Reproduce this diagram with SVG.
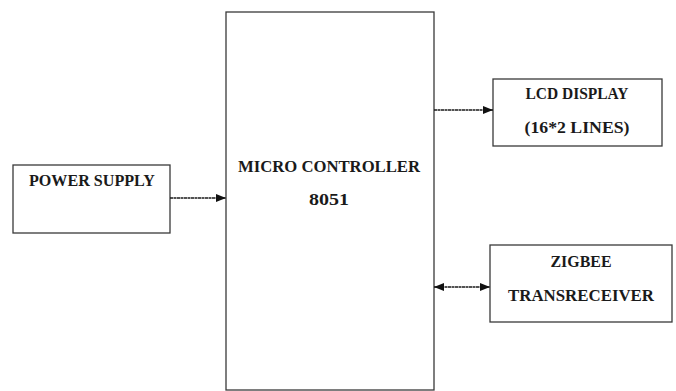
<svg xmlns="http://www.w3.org/2000/svg" width="676" height="391" viewBox="0 0 676 391">
<style>
.box{fill:#fff;stroke:#3a3a3a;stroke-width:1.3}
.lbl{font-family:"Liberation Serif","DejaVu Serif",serif;font-weight:bold;font-size:16.5px;fill:#1a1a1a;text-anchor:middle}
.conn{stroke:#1a1a1a;stroke-width:1.4;fill:none;stroke-dasharray:3 0.5}
</style>
<defs>
<marker id="ah" viewBox="0 0 10 10" refX="10" refY="5" markerWidth="10" markerHeight="10" markerUnits="userSpaceOnUse" orient="auto-start-reverse">
<path d="M0,1 L10,5 L0,9 Z" fill="#111"/>
</marker>
</defs>
<rect width="676" height="391" fill="#fff"/>
<g id="power-supply">
<rect class="box" x="13" y="165" width="157" height="68"/>
<text class="lbl" x="92" y="186" textLength="126" lengthAdjust="spacingAndGlyphs">POWER SUPPLY</text>
</g>
<g id="microcontroller">
<rect class="box" x="226" y="12" width="208" height="378"/>
<text class="lbl" x="329" y="172" textLength="182" lengthAdjust="spacingAndGlyphs">MICRO CONTROLLER</text>
<text class="lbl" x="329" y="205" textLength="40" lengthAdjust="spacingAndGlyphs">8051</text>
</g>
<g id="lcd-display">
<rect class="box" x="493" y="79" width="169" height="67"/>
<text class="lbl" x="577" y="99" textLength="103" lengthAdjust="spacingAndGlyphs">LCD DISPLAY</text>
<text class="lbl" x="577" y="133" textLength="105" lengthAdjust="spacingAndGlyphs">(16*2 LINES)</text>
</g>
<g id="zigbee">
<rect class="box" x="490" y="245" width="182" height="77"/>
<text class="lbl" x="581" y="267" textLength="61" lengthAdjust="spacingAndGlyphs">ZIGBEE</text>
<text class="lbl" x="581" y="301" textLength="146" lengthAdjust="spacingAndGlyphs">TRANSRECEIVER</text>
</g>
<g id="connectors">
<line class="conn" x1="170" y1="198" x2="226" y2="198" marker-end="url(#ah)"/>
<line class="conn" x1="434" y1="110" x2="493" y2="110" marker-end="url(#ah)"/>
<line class="conn" x1="434" y1="287" x2="490" y2="287" marker-start="url(#ah)" marker-end="url(#ah)"/>
</g>
</svg>
